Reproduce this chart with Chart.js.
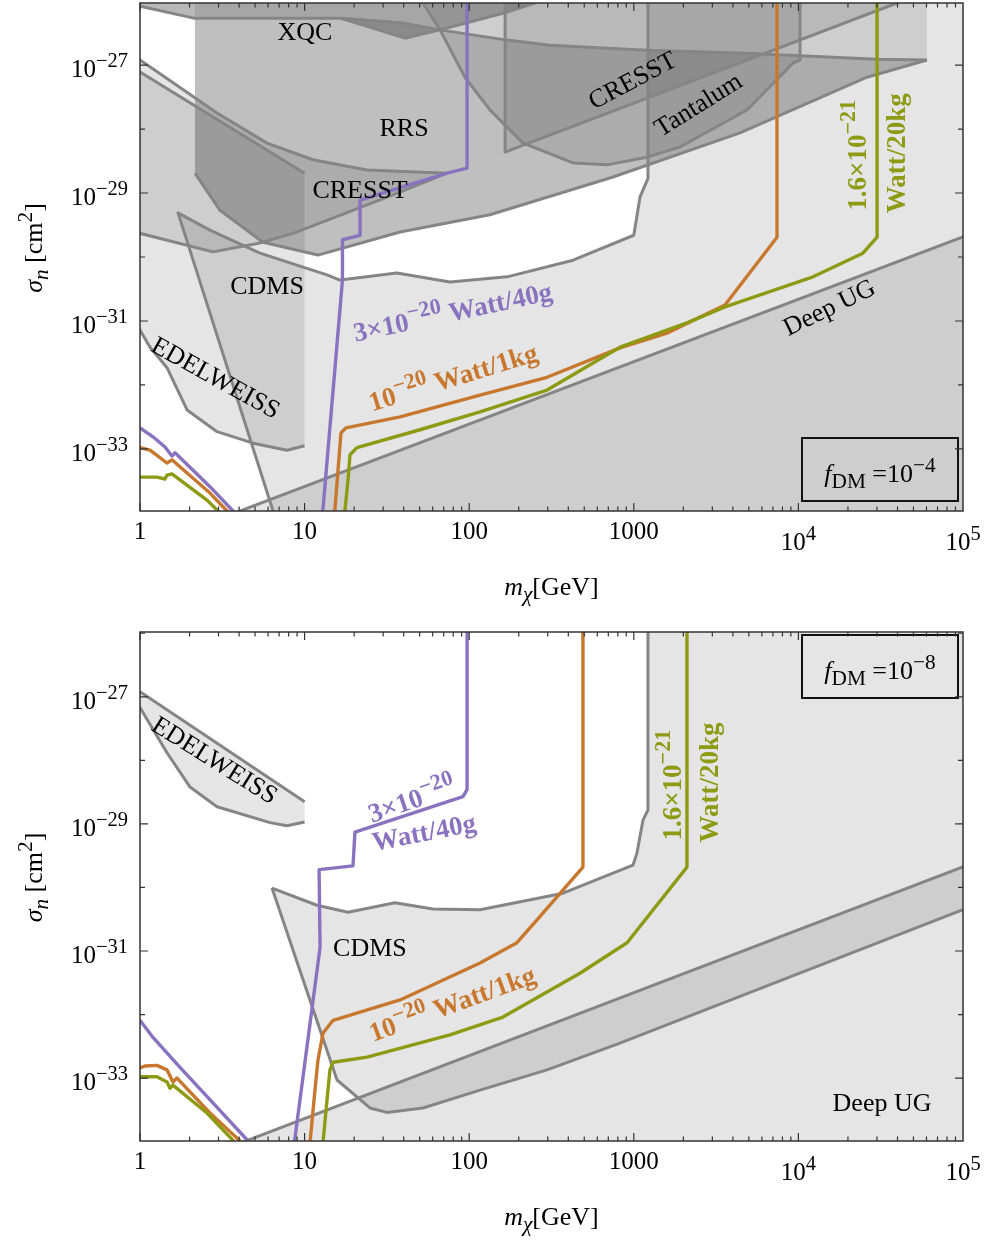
<!DOCTYPE html>
<html>
<head>
<meta charset="utf-8">
<script src="https://cdn.jsdelivr.net/npm/chart.js@4.4.1/dist/chart.umd.min.js"></script>
<style>
  html, body { margin: 0; padding: 0; background: #fff; }
  canvas { display: block; }
</style>
</head>
<body>
<canvas id="c1" width="987" height="615"></canvas>
<canvas id="c2" width="987" height="625"></canvas>
<script>
// every point is [log10(m / GeV), log10(sigma / cm^2)]
const massTicks = [1, 10, 100, 1000, 1e4, 1e5];
const massTickText = [['1'], ['10'], ['100'], ['1000'], ['10', '4'], ['10', '5']];
const sigmaTicks = [-27, -29, -31, -33];

// ---- f_DM = 1e-4 ----
const xqc4 = [[-0.1,-26.06],[0,-26.08],[0.334,-26.27],[1.221,-26.27],[1.61,-26.58],[1.823,-26.45],[2.205,-26.19],[2.40,-26.03],[2.46,-25.9]];
const rrsTop4 = [[1.221,-26.27],[1.586,-26.34],[1.823,-26.45],[2.230,-26.61],[2.491,-26.69],[3.080,-26.77],[3.645,-26.81],[4.478,-26.91],[4.781,-26.92]];
const rrsLow4 = [[0.334,-28.69],[0.486,-29.27],[0.747,-29.77],[1.081,-29.97],[1.580,-29.61],[2.126,-29.34],[2.874,-28.75],[3.645,-28.06],[4.417,-27.19],[4.781,-26.92]];
const cresstUp4 = [[-0.1,-26.74],[0,-26.92],[0.468,-27.75],[0.772,-28.22],[1.051,-28.48],[1.379,-28.64],[1.865,-28.69]];
const cresstLow4 = [[1.865,-28.69],[1.537,-29.03],[0.930,-29.63],[0.729,-29.78],[0.443,-29.92],[0,-29.63],[-0.1,-29.56]];
const edelUp4 = [[-0.1,-26.95],[0,-27.11],[1.0,-28.69]];
const edelLow4 = [[-0.1,-30.9],[0,-31.14],[0.061,-31.41],[0.164,-31.73],[0.286,-32.39],[0.468,-32.73],[0.687,-32.91],[0.893,-33.02],[1.0,-32.95]];
const cdmsSide4 = [[0.936,-35],[0.231,-29.31]];
const cdmsTop4 = [[0.231,-29.31],[0.425,-29.58],[0.729,-29.94],[1.136,-30.28],[1.215,-30.36],[1.561,-30.25],[1.883,-30.39],[2.230,-30.31],[2.631,-30.05],[3.0,-29.66],[3.038,-29.06],[3.086,-28.77],[3.086,-25.9]];
const tantalum4 = [[1.70,-25.9],[1.719,-26.03],[1.823,-26.45],[1.974,-27.19],[2.126,-27.70],[2.327,-28.22],[2.631,-28.53],[2.837,-28.56],[3.080,-28.44],[3.281,-28.28],[3.688,-27.70],[3.967,-26.97],[4.010,-26.92],[4.010,-25.9]];
const cresstHigh4 = [[2.218,-25.9],[2.218,-28.36],[4.599,-26.03],[4.70,-25.9]];
const deepUG4 = [[0.3,-34.27],[5.2,-29.49]];

const purpleLow4 = [[0,-32.67],[0.079,-32.81],[0.152,-32.97],[0.194,-33.11],[0.213,-33.06],[0.425,-33.59],[0.565,-33.97],[0.608,-34.11]];
const orangeLow4 = [[0,-32.98],[0.061,-33.02],[0.164,-33.22],[0.194,-33.17],[0.425,-33.69],[0.529,-33.97],[0.577,-34.16]];
const oliveLow4 = [[0,-33.44],[0.103,-33.44],[0.152,-33.47],[0.164,-33.41],[0.194,-33.39],[0.407,-33.80],[0.474,-33.97],[0.516,-34.14]];
const purple4 = [[1.106,-34.11],[1.23,-30.36],[1.23,-29.73],[1.294,-29.69],[1.337,-29.66],[1.337,-29.11],[1.537,-28.95],[1.865,-28.69],[1.987,-28.61],[1.987,-25.9]];
const orange4 = [[1.179,-34.11],[1.203,-33.33],[1.221,-32.75],[1.251,-32.67],[1.580,-32.50],[2.066,-32.16],[2.473,-31.88],[2.916,-31.42],[3.202,-31.19],[3.554,-30.75],[3.870,-29.69],[3.870,-25.9]];
const olive4 = [[1.239,-34.11],[1.264,-33.48],[1.276,-33.09],[1.318,-32.98],[1.701,-32.70],[2.066,-32.42],[2.473,-32.08],[2.916,-31.41],[3.323,-31.03],[3.554,-30.78],[4.089,-30.31],[4.392,-29.94],[4.478,-29.69],[4.478,-25.9]];

// ---- f_DM = 1e-8 ----
const edelUp8 = [[-0.1,-26.75],[0,-26.92],[1.0,-28.65]];
const edelLow8 = [[-0.1,-26.9],[0,-27.17],[0.164,-27.88],[0.304,-28.42],[0.468,-28.73],[0.790,-28.98],[0.893,-29.03],[1.0,-28.97]];
const cdmsTop8 = [[0.802,-30.01],[1.075,-30.28],[1.264,-30.39],[1.549,-30.24],[1.780,-30.34],[2.066,-30.35],[2.570,-30.09],[2.995,-29.65],[3.019,-29.46],[3.056,-28.94],[3.086,-28.78],[3.086,-25.9]];
const cdmsFloor8 = [[0.802,-30.01],[1.197,-33.03],[1.397,-33.47],[1.501,-33.54],[1.719,-33.47],[2.066,-33.19],[2.473,-32.87],[2.916,-32.45],[3.481,-31.88],[5.0,-30.35],[5.3,-30.05]];
const deepUG8 = [[0.3,-34.33],[5.3,-29.38]];

const purpleLow8 = [[0,-32.09],[0.079,-32.36],[0.243,-32.83],[0.443,-33.39],[0.650,-33.97],[0.699,-34.13]];
const orangeLow8 = [[0,-32.84],[0.030,-32.81],[0.103,-32.80],[0.164,-32.87],[0.200,-33.06],[0.225,-33.0],[0.425,-33.55],[0.608,-33.99],[0.656,-34.13]];
const oliveLow8 = [[0,-32.98],[0.103,-32.98],[0.164,-33.06],[0.182,-33.16],[0.200,-33.11],[0.407,-33.55],[0.565,-33.98],[0.608,-34.13]];
const purple8 = [[0.930,-34.17],[1.094,-30.94],[1.088,-29.72],[1.294,-29.66],[1.306,-29.13],[1.962,-28.57],[1.987,-28.46],[1.987,-25.9]];
const orange8 = [[1.027,-34.17],[1.063,-33.19],[1.081,-32.72],[1.112,-32.29],[1.173,-32.09],[1.580,-31.77],[2.066,-31.19],[2.290,-30.87],[2.412,-30.51],[2.691,-29.68],[2.691,-25.9]];
const olive8 = [[1.106,-34.17],[1.136,-33.35],[1.154,-32.87],[1.173,-32.75],[1.379,-32.67],[1.883,-32.32],[2.205,-32.04],[2.673,-31.35],[2.959,-30.87],[3.323,-29.68],[3.323,-25.9]];

const GREY = '#858585', PURPLE = '#8a72bf', ORANGE = '#c8782e', OLIVE = '#8f9a14';
const SERIF = '"Liberation Serif", "DejaVu Serif", serif';

const P = a => a.map(([lm, ls]) => ({x: 10 ** lm, y: 10 ** ls}));
const rev = a => a.slice().reverse();
const poly = (pts, alpha) => ({data: P(pts), fill: 'shape', backgroundColor: 'rgba(0,0,0,' + alpha + ')',
  borderWidth: 0, pointRadius: 0, order: 30});
const edge = pts => ({data: P(pts), borderColor: GREY, borderWidth: 3, borderJoinStyle: 'round',
  pointRadius: 0, fill: false, order: 20});
const curve = (pts, color, order) => ({data: P(pts), borderColor: color, borderWidth: 3.4, borderJoinStyle: 'round',
  pointRadius: 0, fill: false, order: order});

function fontFor(size, kind, bold) {
  const it = kind.includes('i') ? 'italic ' : '';
  const s = (kind.includes('sup') || kind.includes('sub')) ? size * 0.82 : size;
  return it + (bold ? 'bold ' : '') + s + 'px ' + SERIF;
}

// text with super/subscripts, centred on (x, y) unless told otherwise
function drawRich(ctx, parts, x, y, o) {
  const size = o.size || 26;
  ctx.save();
  ctx.translate(x, y);
  if (o.rot) ctx.rotate(o.rot * Math.PI / 180);
  let w = 0;
  const ws = parts.map(([t, k = '']) => {
    ctx.font = fontFor(size, k, o.bold);
    const m = ctx.measureText(t).width;
    w += m;
    return m;
  });
  let cx = o.align === 'right' ? -w : o.align === 'left' ? 0 : -w / 2;
  const by = o.baseline ? 0 : size * 0.33;
  ctx.fillStyle = o.color || '#000';
  ctx.textBaseline = 'alphabetic';
  parts.forEach(([t, k = ''], i) => {
    ctx.font = fontFor(size, k, o.bold);
    const dy = k.includes('sup') ? -size * 0.4 : k.includes('sub') ? size * 0.22 : 0;
    ctx.fillText(t, cx, by + dy);
    cx += ws[i];
  });
  ctx.restore();
}

const extras = {};

const framePlugin = {
  id: 'frame',
  afterDatasetsDraw(chart) {
    const e = extras[chart.canvas.id];
    const {ctx, chartArea: a, scales: {x, y}} = chart;
    e.labels.forEach(l => drawRich(ctx, l.parts, x.getPixelForValue(10 ** l.at[0]), y.getPixelForValue(10 ** l.at[1]), l));
    const bw = 156, bh = 63;
    const bx = a.right - 5 - bw, by = e.boxTop ? a.top + 3 : a.bottom - 10 - bh;
    ctx.save();
    ctx.strokeStyle = '#111';
    ctx.lineWidth = 2;
    ctx.strokeRect(bx, by, bw, bh);
    ctx.restore();
    drawRich(ctx, [['f', 'i'], ['DM', 'sub'], [' =10'], ['\u2212' + e.fdm, 'sup']], bx + bw / 2, by + 44, {size: 26, baseline: true});
  },
  afterDraw(chart) {
    const {ctx, chartArea: a, scales: {x, y}} = chart;
    ctx.save();
    ctx.strokeStyle = '#333';
    ctx.lineWidth = 1.5;
    ctx.strokeRect(a.left, a.top, a.right - a.left, a.bottom - a.top);
    ctx.lineWidth = 1.2;
    ctx.beginPath();
    for (let d = 0; d <= 4; d++) {
      for (let k = 1; k <= 9; k++) {
        const px = x.getPixelForValue(k * 10 ** d);
        const len = k === 1 ? 8 : 4.5;
        ctx.moveTo(px, a.bottom); ctx.lineTo(px, a.bottom - len);
        ctx.moveTo(px, a.top); ctx.lineTo(px, a.top + len);
      }
    }
    const lo = Math.ceil(Math.log10(y.min)), hi = Math.floor(Math.log10(y.max));
    for (let p = lo; p <= hi; p++) {
      const py = y.getPixelForValue(10 ** p);
      const len = p % 2 ? 8 : 5;
      ctx.moveTo(a.left, py); ctx.lineTo(a.left + len, py);
      ctx.moveTo(a.right, py); ctx.lineTo(a.right - len, py);
    }
    ctx.stroke();
    ctx.restore();

    massTicks.forEach((v, i) => {
      const t = massTickText[i];
      const parts = t.length > 1 ? [[t[0]], [t[1], 'sup']] : [[t[0]]];
      drawRich(ctx, parts, x.getPixelForValue(v), a.bottom + (t.length > 1 ? 39 : 28), {size: 25, baseline: true});
    });
    sigmaTicks.forEach(p => {
      drawRich(ctx, [['10'], ['\u2212' + (-p), 'sup']], a.left - 12, y.getPixelForValue(10 ** p) + 12,
        {size: 25, baseline: true, align: 'right'});
    });
    drawRich(ctx, [['m', 'i'], ['\u03c7', 'subi'], ['[GeV]']], (a.left + a.right) / 2, a.bottom + 84, {size: 26, baseline: true});
    drawRich(ctx, [['\u03c3', 'i'], ['n', 'subi'], [' [cm'], ['2', 'sup'], [']']], 42, (a.top + a.bottom) / 2 - 9,
      {size: 26, baseline: true, rot: -90});
  }
};

function panel(id, datasets, yr, pad, extra) {
  extras[id] = extra;
  new Chart(document.getElementById(id), {
    type: 'line',
    data: {datasets: datasets},
    options: {
      responsive: false,
      animation: false,
      events: [],
      layout: {padding: pad},
      scales: {
        x: {type: 'logarithmic', min: 1, max: 1e5, display: false},
        y: {type: 'logarithmic', min: 10 ** yr[0], max: 10 ** yr[1], display: false}
      },
      plugins: {legend: {display: false}, tooltip: {enabled: false}}
    },
    plugins: [framePlugin]
  });
}

const bold = (c, o) => Object.assign({color: c, bold: true, size: 27}, o);

panel('c1', [
  curve(olive4, OLIVE, 10), curve(oliveLow4, OLIVE, 10),
  curve(purple4, PURPLE, 11), curve(purpleLow4, PURPLE, 11),
  curve(orange4, ORANGE, 12), curve(orangeLow4, ORANGE, 12),
  edge(xqc4), edge(rrsTop4), edge(rrsLow4), edge(cresstUp4.concat(cresstLow4)),
  edge(edelUp4), edge(edelLow4), edge(cdmsSide4.concat(cdmsTop4)), edge(tantalum4),
  edge(cresstHigh4), edge(deepUG4),
  poly(xqc4.concat([[2.46,-25.5],[-0.1,-25.5]]), 0.28),
  poly([[0.334,-25.5],[0.334,-26.27]].concat(rrsTop4, [[4.781,-25.5]]), 0.1),
  poly([[0.334,-26.27]].concat(rrsTop4, rev(rrsLow4)), 0.25),
  poly(cresstUp4.concat(cresstLow4), 0.1),
  poly(edelUp4.concat(rev(edelLow4)), 0.1),
  poly(cdmsSide4.concat(cdmsTop4, [[5.3,-25.9],[5.3,-35]]), 0.1),
  poly(tantalum4, 0.1),
  poly(cresstHigh4, 0.1),
  poly(deepUG4.concat([[5.2,-35],[0.3,-35]]), 0.1)
], [-33.97, -26.03], {left: 140, right: 24, top: 3, bottom: 104}, {
  fdm: '4', boxTop: false,
  labels: [
    {at: [1.002, -26.48], parts: [['XQC']]},
    {at: [1.604, -27.97], parts: [['RRS']]},
    {at: [1.337, -28.95], parts: [['CRESST']]},
    {at: [0.772, -30.44], parts: [['CDMS']]},
    {at: [0.462, -31.88], parts: [['EDELWEISS']], rot: 29},
    {at: [2.99, -27.23], parts: [['CRESST']], rot: -28},
    {at: [3.39, -27.61], parts: [['Tantalum']], rot: -32},
    {at: [4.186, -30.78], parts: [['Deep UG']], rot: -26},
    bold(PURPLE, {at: [1.900, -30.86], parts: [['3\u00d710'], ['\u221220', 'sup'], [' Watt/40g']], rot: -12}),
    bold(ORANGE, {at: [1.902, -31.88], parts: [['10'], ['\u221220', 'sup'], [' Watt/1kg']], rot: -17}),
    bold(OLIVE, {at: [4.356, -28.41], parts: [['1.6\u00d710'], ['\u221221', 'sup']], rot: -90}),
    bold(OLIVE, {at: [4.593, -28.38], parts: [['Watt/20kg']], rot: -90})
  ]
});

panel('c2', [
  curve(olive8, OLIVE, 10), curve(oliveLow8, OLIVE, 10),
  curve(purple8, PURPLE, 11), curve(purpleLow8, PURPLE, 11),
  curve(orange8, ORANGE, 12), curve(orangeLow8, ORANGE, 12),
  edge(edelUp8), edge(edelLow8), edge(cdmsTop8), edge(cdmsFloor8), edge(deepUG8),
  poly(edelUp8.concat(rev(edelLow8)), 0.1),
  poly(rev(cdmsFloor8).concat(cdmsTop8, [[5.3,-25.9]]), 0.1),
  poly(deepUG8.concat([[5.3,-35],[0.3,-35]]), 0.1)
], [-33.99, -25.98], {left: 140, right: 24, top: 17, bottom: 99}, {
  fdm: '8', boxTop: true,
  labels: [
    {at: [0.456, -27.99], parts: [['EDELWEISS']], rot: 32},
    {at: [1.397, -30.94], parts: [['CDMS']]},
    {at: [4.508, -33.39], parts: [['Deep UG']]},
    bold(PURPLE, {at: [1.652, -28.62], parts: [['3\u00d710'], ['\u221220', 'sup']], rot: -19}),
    bold(PURPLE, {at: [1.725, -29.13], parts: [['Watt/40g']], rot: -11}),
    bold(ORANGE, {at: [1.896, -31.83], parts: [['10'], ['\u221220', 'sup'], [' Watt/1kg']], rot: -20}),
    bold(OLIVE, {at: [3.232, -28.39], parts: [['1.6\u00d710'], ['\u221221', 'sup']], rot: -90}),
    bold(OLIVE, {at: [3.457, -28.35], parts: [['Watt/20kg']], rot: -90})
  ]
});
</script>
</body>
</html>
